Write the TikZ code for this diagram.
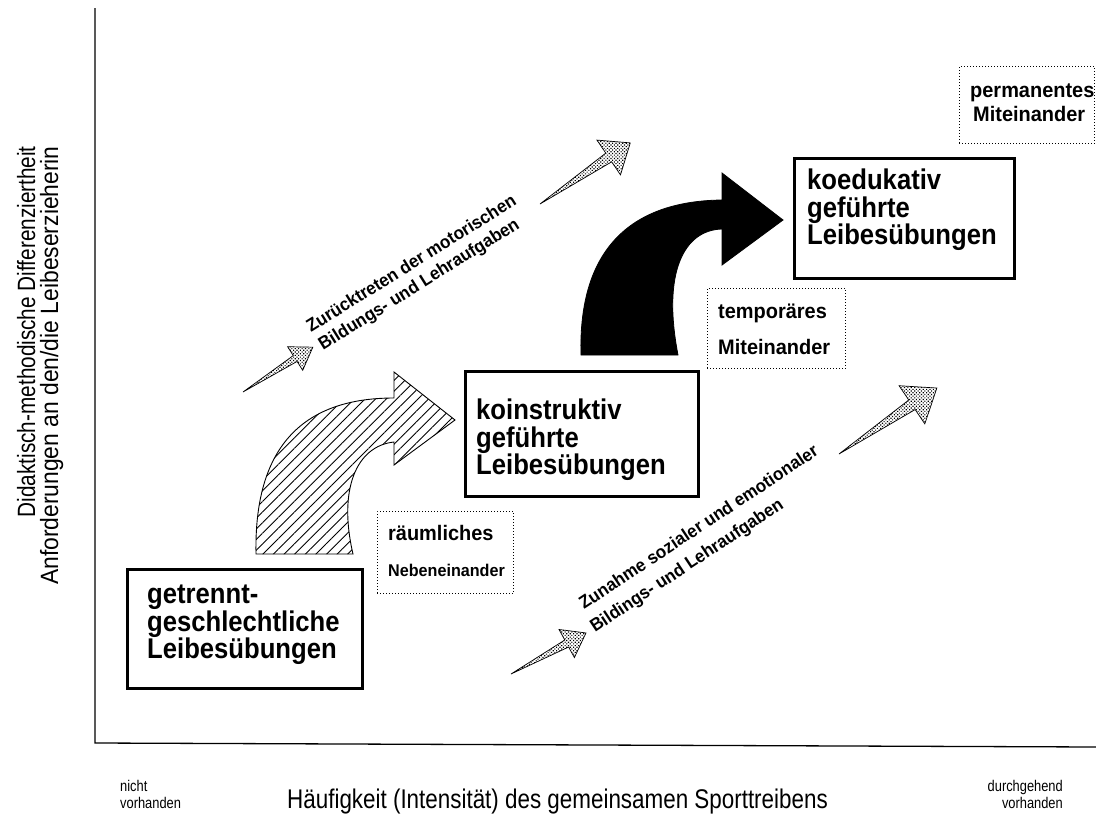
\documentclass[tikz,border=0pt]{standalone}
\usepackage{fontspec}
\setmainfont{Liberation Sans}
\newfontfamily\axfont{Liberation Sans}[FakeStretch=0.83]
\newfontfamily\axfontb{Liberation Sans}[FakeStretch=0.915]
\newfontfamily\boxfont{Liberation Sans}[FakeStretch=0.9]
\newfontfamily\lblfont{Liberation Sans}[FakeStretch=0.95]
\usetikzlibrary{patterns.meta}
\tikzset{
  mainbox/.style={draw, line width=2.6pt, inner sep=0pt, anchor=north west},
  dotbox/.style={draw, line width=0.9pt, dash pattern=on 0.9pt off 2.1pt, inner sep=0pt, anchor=north west},
  boxtext/.style={inner sep=0pt, anchor=west, align=left, font=\boxfont\bfseries\fontsize{28.5}{27.5}\selectfont},
  lbltext/.style={inner sep=0pt, anchor=west, font=\lblfont\bfseries\fontsize{21}{21}\selectfont},
  diagtext/.style={inner sep=0pt, anchor=base west, font=\lblfont\bfseries\fontsize{18}{18}\selectfont},
  axtext/.style={inner sep=0pt, font=\axfont\fontsize{25}{23}\selectfont},
  smallax/.style={inner sep=0pt, font=\axfont\fontsize{15.5}{17}\selectfont},
  axisline/.style={line width=1.3pt},
  dotarr/.style={draw, line width=0.7pt, line join=miter, pattern={Dots[distance=2.4pt, radius=0.8pt, angle=45]}},
  hatcharr/.style={draw, line width=0.9pt, pattern={Lines[angle=45, distance=7.5pt, line width=0.9pt]}},
  blackarr/.style={draw, line width=0.8pt, fill=black},
}
\newcommand\dotarrow[6]{%
  \begin{scope}[shift={(#1,#2)},rotate=#3]
    \draw[dotarr] (0,0) -- ({#4-#6},{0.25*#5}) -- ({#4-#6},{#5}) -- (#4,0)
      -- ({#4-#6},{-#5}) -- ({#4-#6},{-0.25*#5}) -- cycle;
  \end{scope}}
\begin{document}
\begin{tikzpicture}[x=1pt,y=-1pt]
\fill[white] (0,0) rectangle (1096,817);
\useasboundingbox (0,0) rectangle (1096,817);

% axes
\coordinate (ytop) at (95,8);
\coordinate (origin) at (95,743);
\coordinate (xend) at (1096,747);
\draw[axisline] (ytop) -- (origin) -- (xend);

% axis labels
\node[axtext, rotate=90, anchor=base east] (yl1) at (35,146) {Didaktisch-methodische Differenziertheit};
\node[axtext, rotate=90, anchor=base east, font=\axfontb\fontsize{25}{23}\selectfont] (yl2) at (58,146) {Anforderungen an den/die Leibeserzieherin};
\node[axtext, anchor=base west, font=\axfont\fontsize{27}{27}\selectfont] (xl) at (287,808) {Häufigkeit (Intensität) des gemeinsamen Sporttreibens};
\node[smallax, anchor=base west] (nl1) at (120,791) {nicht};
\node[smallax, anchor=base west] (nl2) at (120,808) {vorhanden};
\node[smallax, anchor=base east] (dl1) at (1063,791) {durchgehend};
\node[smallax, anchor=base east] (dl2) at (1063,808) {vorhanden};

% curved hatched arrow
\draw[hatcharr] (256,554) .. controls (254,450) and (300,398) .. (394,398)
  -- (394,372) -- (455,420) -- (394,465) -- (394,442)
  .. controls (356,446) and (338,490) .. (353,554) -- cycle;

% curved black arrow
\draw[blackarr] (581,355) .. controls (578,245) and (635,201) .. (722,200)
  -- (722,173) -- (783,220) -- (722,265) -- (722,229)
  .. controls (684,230) and (662,272) .. (678,355) -- cycle;

% main boxes
\node[mainbox, minimum width=235pt, minimum height=119pt] (b1) at (126,568) {};
\node[boxtext] (t1) at (147,625) {getrennt-\\geschlechtliche\\Leibesübungen};
\node[mainbox, minimum width=233pt, minimum height=125pt] (b2) at (464,370) {};
\node[boxtext] (t2) at (476,440) {koinstruktiv\\geführte\\Leibesübungen};
\node[mainbox, minimum width=220pt, minimum height=120pt] (b3) at (793,157) {};
\node[boxtext] (t3) at (807,210) {koedukativ\\geführte\\Leibesübungen};

% dotted boxes
\node[dotbox, minimum width=136pt, minimum height=82pt] (d1) at (377,511) {};
\node[lbltext] (d1a) at (388,533) {räumliches};
\node[lbltext, font=\lblfont\bfseries\fontsize{17}{17}\selectfont] (d1b) at (388,570) {Nebeneinander};
\node[dotbox, minimum width=138pt, minimum height=80pt] (d2) at (707,288) {};
\node[lbltext] (d2a) at (718,313) {temporäres};
\node[lbltext] (d2b) at (718,347) {Miteinander};
\node[dotbox, minimum width=135pt, minimum height=77pt] (d3) at (959,66) {};
\node[lbltext] (d3a) at (970,93) {permanentes};
\node[lbltext] (d3b) at (973,114) {Miteinander};

% dotted diagonal arrows
\dotarrow{243}{392}{32.7}{83}{14}{21}
\dotarrow{540}{204}{34.1}{109}{21}{26}
\dotarrow{511}{674}{28.7}{85.5}{16}{22}
\dotarrow{839}{454}{34}{118}{23}{30}

% diagonal texts
\node[diagtext, rotate=32] (u1) at (311,333) {Zurücktreten der motorischen};
\node[diagtext, rotate=32] (u2) at (323,351) {Bildungs- und Lehraufgaben};
\node[diagtext, rotate=33.5] (l1) at (584,610) {Zunahme sozialer und emotionaler};
\node[diagtext, rotate=33.5] (l2) at (595,633) {Bildings- und Lehraufgaben};
\end{tikzpicture}
\end{document}
